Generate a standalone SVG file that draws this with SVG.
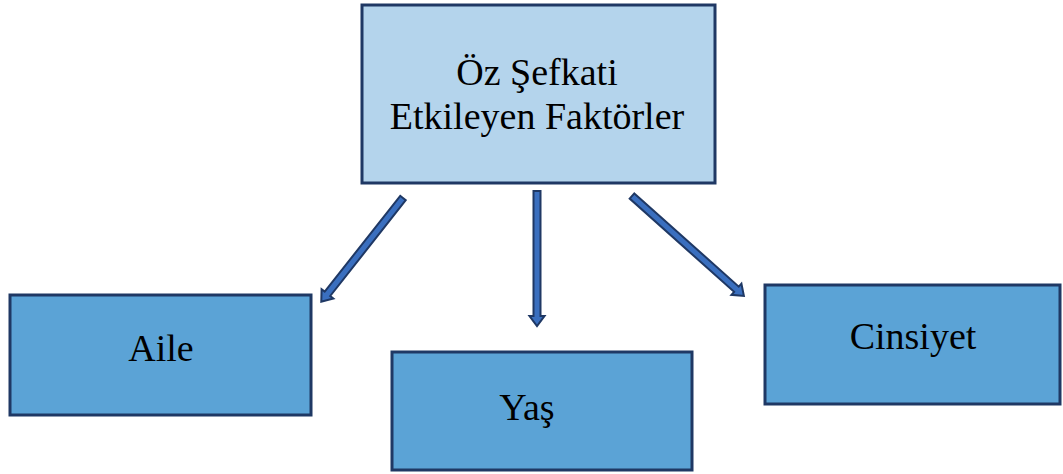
<svg xmlns="http://www.w3.org/2000/svg" width="1063" height="474" viewBox="0 0 1063 474">
<style>
.box{stroke:#1f3864;stroke-width:3}
.top{fill:#b4d4ec}
.sub{fill:#5ba3d6}
.lbl{font-family:'Liberation Serif','Times New Roman',serif;font-size:38px;fill:#000;text-anchor:middle}
.arr{fill:#3a6fbf;stroke:#1f3864;stroke-width:2;stroke-linejoin:miter}
</style>
<rect width="1063" height="474" fill="#fff"/>
<g id="node-top">
<rect class="box top" x="362" y="5" width="353" height="178"/>
<text class="lbl" x="537" y="85">Öz Şefkati</text>
<text class="lbl" x="537" y="129">Etkileyen Faktörler</text>
</g>
<g id="node-aile">
<rect class="box sub" x="10" y="295" width="301" height="120"/>
<text class="lbl" x="161" y="361">Aile</text>
</g>
<g id="node-yas">
<rect class="box sub" x="392" y="352" width="300" height="118"/>
<text class="lbl" x="527" y="420">Yaş</text>
</g>
<g id="node-cinsiyet">
<rect class="box sub" x="765" y="285" width="295" height="119"/>
<text class="lbl" x="913" y="349">Cinsiyet</text>
</g>
<g id="connectors">
<path class="arr" transform="translate(403,198) rotate(128.25)" d="M0,-3.5 L122,-3.5 L122,-7.5 L132,0 L122,7.5 L122,3.5 L0,3.5 Z"/>
<path class="arr" transform="translate(537,191) rotate(90)" d="M0,-3.5 L125,-3.5 L125,-7.5 L135,0 L125,7.5 L125,3.5 L0,3.5 Z"/>
<path class="arr" transform="translate(632,196) rotate(41.76)" d="M0,-3.5 L140,-3.5 L140,-7.5 L150,0 L140,7.5 L140,3.5 L0,3.5 Z"/>
</g>
</svg>
